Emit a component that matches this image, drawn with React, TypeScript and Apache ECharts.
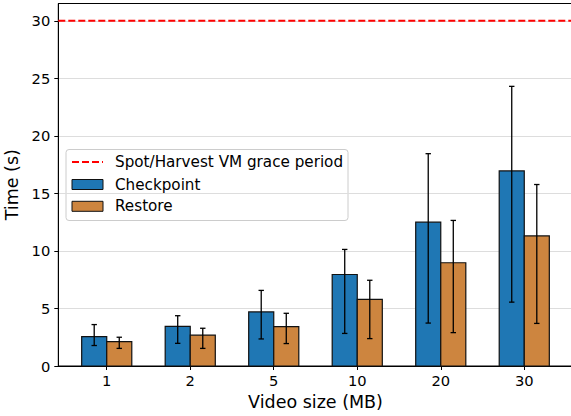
import React, { useEffect, useRef } from "react";
import * as echarts from "echarts";

// Video sizes (MB) on the x axis
const categories = ["1", "2", "5", "10", "20", "30"];

// Checkpoint time (s): mean with lower / upper whisker ends
const checkpointMean = [2.55, 3.45, 4.7, 7.95, 12.5, 16.95];
const checkpointLow = [1.78, 1.97, 2.35, 2.83, 3.73, 5.55];
const checkpointHigh = [3.6, 4.37, 6.57, 10.13, 18.45, 24.3];

// Restore time (s): mean with lower / upper whisker ends
const restoreMean = [2.12, 2.68, 3.42, 5.79, 8.97, 11.3];
const restoreLow = [1.53, 1.53, 1.95, 2.38, 2.9, 3.7];
const restoreHigh = [2.5, 3.28, 4.58, 7.45, 12.65, 15.77];

// Grace period of Spot/Harvest VMs (s)
const gracePeriod = 30;

const yTicks = [0, 5, 10, 15, 20, 25, 30];

const FONT = "DejaVu Sans";
const BLUE = "#1f77b4";
const ORANGE = "#cd853f";
const BAR_W = 0.3;
const X_MIN = -0.58;
const X_MAX = 5.58;
const Y_MAX = 31.5;

function barRenderer(offset: number) {
  return (params: any, api: any) => {
    const i = api.value(0);
    const v = api.value(1);
    const lo = api.value(2);
    const hi = api.value(3);
    const left = i + offset;
    const pTop = api.coord([left, v]);
    const pBase = api.coord([left + BAR_W, 0]);
    const xc = api.coord([left + BAR_W / 2, 0])[0];
    const yLo = api.coord([0, lo])[1];
    const yHi = api.coord([0, hi])[1];
    const cap = 2.7;
    const lineStyle = { stroke: "#000", lineWidth: 1.3 };
    return {
      type: "group",
      children: [
        {
          type: "rect",
          shape: {
            x: pTop[0],
            y: pTop[1],
            width: pBase[0] - pTop[0],
            height: pBase[1] - pTop[1],
          },
          style: { fill: api.visual("color"), stroke: "#111", lineWidth: 1.2 },
        },
        { type: "line", shape: { x1: xc, y1: yLo, x2: xc, y2: yHi }, style: lineStyle },
        { type: "line", shape: { x1: xc - cap, y1: yLo, x2: xc + cap, y2: yLo }, style: lineStyle },
        { type: "line", shape: { x1: xc - cap, y1: yHi, x2: xc + cap, y2: yHi }, style: lineStyle },
      ],
    };
  };
}

export default function App() {
  const ref = useRef<HTMLDivElement>(null);

  useEffect(() => {
    if (!ref.current) return;
    const chart = echarts.init(ref.current, null, { renderer: "svg" });

    const checkpointData = categories.map((_, i) => [i, checkpointMean[i], checkpointLow[i], checkpointHigh[i]]);
    const restoreData = categories.map((_, i) => [i, restoreMean[i], restoreLow[i], restoreHigh[i]]);

    const legendRows = [162, 184.5, 206.3];

    chart.setOption({
      animation: false,
      backgroundColor: "#fff",
      textStyle: { fontFamily: FONT },
      grid: {
        left: 58.3,
        right: -1.7,
        top: 3.5,
        bottom: 50,
        containLabel: false,
        outerBoundsMode: "none",
        show: true,
        borderColor: "#000",
        borderWidth: 1,
        backgroundColor: "transparent",
      },
      xAxis: {
        type: "value",
        min: X_MIN,
        max: X_MAX,
        name: "Video size (MB)",
        nameLocation: "middle",
        nameGap: 26,
        nameTextStyle: { fontSize: 17.5, color: "#000", fontFamily: FONT },
        axisLine: { show: true, onZero: false, lineStyle: { color: "#000", width: 1 } },
        axisTick: {
          show: true,
          length: 4,
          lineStyle: { color: "#000" },
          customValues: categories.map((_, i) => i),
        },
        axisLabel: {
          color: "#000",
          fontSize: 14.7,
          fontFamily: FONT,
          margin: 7,
          customValues: categories.map((_, i) => i),
          formatter: (v: number) => categories[Math.round(v)] ?? "",
        },
        splitLine: { show: false },
      },
      yAxis: {
        type: "value",
        min: 0,
        max: Y_MAX,
        interval: 5,
        name: "Time (s)",
        nameLocation: "middle",
        nameRotate: 90,
        nameGap: 29,
        nameTextStyle: { fontSize: 17.5, color: "#000", fontFamily: FONT },
        axisLine: { show: true, onZero: false, lineStyle: { color: "#000", width: 1 } },
        axisTick: { show: true, length: 4, lineStyle: { color: "#000" }, customValues: yTicks },
        axisLabel: {
          color: "#000",
          fontSize: 14.7,
          fontFamily: FONT,
          margin: 8,
          customValues: yTicks,
        },
        splitLine: { show: true, lineStyle: { color: "#dddddd", width: 1 } },
      },
      series: [
        {
          name: "Checkpoint",
          type: "custom",
          color: BLUE,
          renderItem: barRenderer(-BAR_W),
          encode: { x: 0, y: [1, 2, 3] },
          data: checkpointData,
          z: 3,
        },
        {
          name: "Restore",
          type: "custom",
          color: ORANGE,
          renderItem: barRenderer(0),
          encode: { x: 0, y: [1, 2, 3] },
          data: restoreData,
          z: 3,
        },
        {
          name: "Spot/Harvest VM grace period",
          type: "line",
          symbol: "none",
          data: [
            [X_MIN, gracePeriod],
            [X_MAX, gracePeriod],
          ],
          lineStyle: { color: "#ff0000", width: 2, type: [7, 3] },
          z: 4,
        },
      ],
      graphic: [
        {
          type: "group",
          z: 100,
          children: [
            {
              type: "rect",
              shape: { x: 66, y: 149.5, width: 282, height: 71, r: 3 },
              style: { fill: "rgba(255,255,255,0.8)", stroke: "#cccccc", lineWidth: 1 },
            },
            {
              type: "line",
              shape: { x1: 72, y1: legendRows[0], x2: 103, y2: legendRows[0] },
              style: { stroke: "#ff0000", lineWidth: 2, lineDash: [7, 3] },
            },
            {
              type: "rect",
              shape: { x: 72, y: legendRows[1] - 5, width: 31, height: 10 },
              style: { fill: BLUE, stroke: "#111", lineWidth: 1 },
            },
            {
              type: "rect",
              shape: { x: 72, y: legendRows[2] - 5, width: 31, height: 10 },
              style: { fill: ORANGE, stroke: "#111", lineWidth: 1 },
            },
            ...["Spot/Harvest VM grace period", "Checkpoint", "Restore"].map((t, k) => ({
              type: "text",
              x: 115,
              y: legendRows[k],
              style: {
                text: t,
                fill: "#000",
                font: `15.2px "${FONT}"`,
                verticalAlign: "middle",
                align: "left",
              },
            })),
          ],
        },
      ],
    });

    return () => chart.dispose();
  }, []);

  return (
    <div
      ref={ref}
      style={{ position: "absolute", left: 0, top: 0, width: 571, height: 416 }}
    />
  );
}
